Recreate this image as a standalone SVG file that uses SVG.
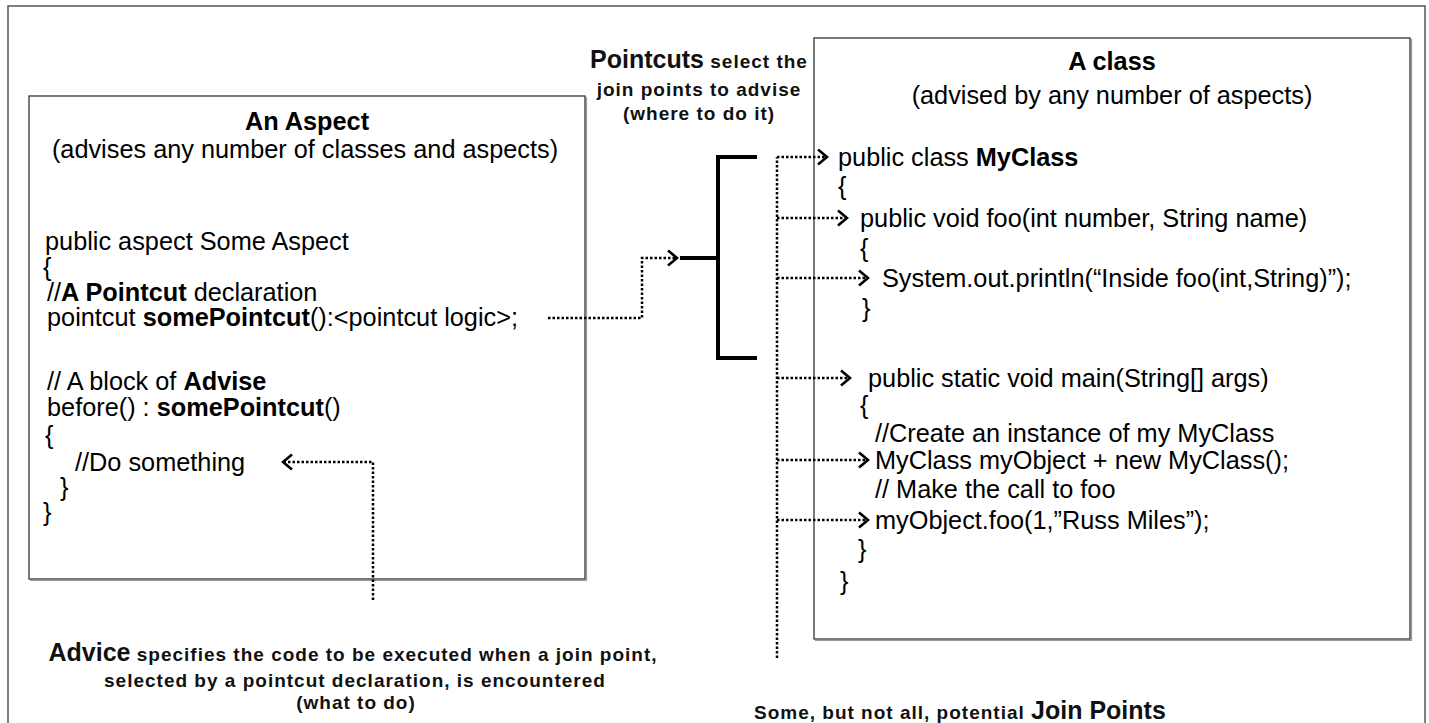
<svg xmlns="http://www.w3.org/2000/svg" width="1429" height="723" viewBox="0 0 1429 723">
  <style>
    .code { font-family: "Liberation Sans", Arial, sans-serif; font-size: 25.3px; fill: #000; }
    .b { font-weight: bold; }
    .note { font-family: "Liberation Sans", Arial, sans-serif; font-weight: bold; font-size: 19px; letter-spacing: 1px; fill: #111; }
    .big { font-size: 25px; letter-spacing: 0; }
    .frame { fill: #fff; stroke: #555; stroke-width: 1.5; }
    .box { fill: #fff; stroke: #333; stroke-width: 1.3; }
    .shadow { fill: none; stroke: #9a9a9a; stroke-width: 1.2; }
    .dot { fill: none; stroke: #000; stroke-width: 2.5; stroke-dasharray: 2.5 2; }
    .bracket { fill: none; stroke: #000; stroke-width: 4; }
  </style>
  <defs>
    <!-- open chevron head used on every dotted connector -->
    <marker id="chev" viewBox="-11 -9 13 18" refX="0" refY="0" markerWidth="13" markerHeight="18" markerUnits="userSpaceOnUse" orient="auto">
      <path d="M-9,-7.5 L0,0 L-9,7.5" fill="none" stroke="#000" stroke-width="2.6" stroke-dasharray="none"/>
    </marker>
  </defs>

  <rect width="1429" height="723" fill="#fff"/>
  <!-- outer frame -->
  <rect class="frame" x="8" y="6" width="1417" height="740"/>

  <!-- aspect -->
  <g id="aspect">
    <polyline class="shadow" points="586.5,97 586.5,580.5 30,580.5"/>
    <rect class="box" x="29" y="96" width="556" height="483"/>
    <text class="code b" x="307" y="130" text-anchor="middle">An Aspect</text>
    <text class="code" x="305" y="158" text-anchor="middle">(advises any number of classes and aspects)</text>
    <text class="code" x="45" y="250">public aspect Some Aspect</text>
    <text class="code" x="43" y="276">{</text>
    <text class="code" x="47" y="301">//<tspan class="b">A Pointcut</tspan> declaration</text>
    <text class="code" x="47" y="326">pointcut <tspan class="b">somePointcut</tspan>():&lt;pointcut logic&gt;;</text>
    <text class="code" x="47" y="390">// A block of <tspan class="b">Advise</tspan></text>
    <text class="code" x="47" y="416">before() : <tspan class="b">somePointcut</tspan>()</text>
    <text class="code" x="45" y="444">{</text>
    <text class="code" x="75" y="471">//Do something</text>
    <text class="code" x="60" y="496">}</text>
    <text class="code" x="43" y="521">}</text>
  </g>

  <!-- class -->
  <g id="myclass">
    <polyline class="shadow" points="1411.5,39 1411.5,640.5 815,640.5"/>
    <rect class="box" x="814" y="38" width="596" height="601"/>
    <text class="code b" x="1112" y="70" text-anchor="middle">A class</text>
    <text class="code" x="1112" y="104" text-anchor="middle">(advised by any number of aspects)</text>
    <text class="code" x="838" y="166">public class <tspan class="b">MyClass</tspan></text>
    <text class="code" x="838" y="195">{</text>
    <text class="code" x="860" y="227">public void foo(int number, String name)</text>
    <text class="code" x="860" y="257">{</text>
    <text class="code" x="882" y="287">System.out.println(“Inside foo(int,String)”);</text>
    <text class="code" x="862" y="317">}</text>
    <text class="code" x="868" y="387">public static void main(String[] args)</text>
    <text class="code" x="860" y="414">{</text>
    <text class="code" x="875" y="442">//Create an instance of my MyClass</text>
    <text class="code" x="875" y="469">MyClass myObject + new MyClass();</text>
    <text class="code" x="875" y="498">// Make the call to foo</text>
    <text class="code" x="875" y="529">myObject.foo(1,”Russ Miles”);</text>
    <text class="code" x="858" y="558">}</text>
    <text class="code" x="840" y="590">}</text>
  </g>

  <!-- pointcut note and bracket -->
  <g id="pointcuts">
    <text class="note" x="699" y="68" text-anchor="middle"><tspan class="big">Pointcuts</tspan> select the</text>
    <text class="note" x="699" y="96" text-anchor="middle">join points to advise</text>
    <text class="note" x="699" y="120" text-anchor="middle">(where to do it)</text>
    <path class="bracket" d="M757,157 H718 V358 H757 M680,258 H718"/>
  </g>

  <!-- advice note -->
  <g id="advice">
    <text class="note" x="353" y="661" text-anchor="middle"><tspan class="big">Advice</tspan> specifies the code to be executed when a join point,</text>
    <text class="note" x="355" y="687" text-anchor="middle">selected by a pointcut declaration, is encountered</text>
    <text class="note" x="356" y="709" text-anchor="middle">(what to do)</text>
  </g>

  <!-- join points note -->
  <g id="joinpoints">
    <text class="note" x="754" y="719">Some, but not all, potential <tspan class="big">Join Points</tspan></text>
  </g>

  <!-- connectors -->
  <g id="connectors">
    <path class="dot" d="M548,318 H642 V258 H677" marker-end="url(#chev)"/>
    <path class="dot" d="M373,600 V462 H283" marker-end="url(#chev)"/>
    <path class="dot" d="M777,658 V157"/>
    <path class="dot" d="M777,157 H827" marker-end="url(#chev)"/>
    <path class="dot" d="M777,218 H847" marker-end="url(#chev)"/>
    <path class="dot" d="M777,278 H868" marker-end="url(#chev)"/>
    <path class="dot" d="M777,378 H850" marker-end="url(#chev)"/>
    <path class="dot" d="M777,460 H868" marker-end="url(#chev)"/>
    <path class="dot" d="M777,520 H868" marker-end="url(#chev)"/>
  </g>
</svg>
